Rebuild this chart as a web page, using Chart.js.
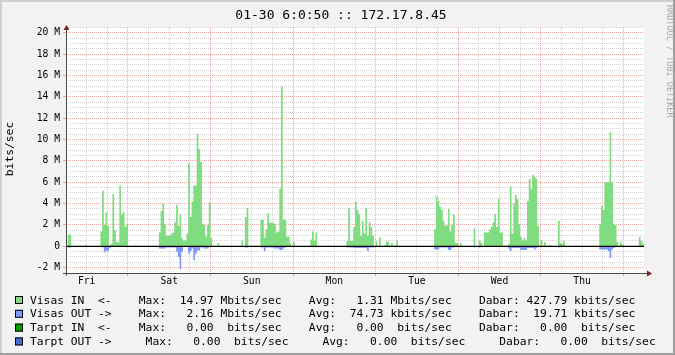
<!DOCTYPE html>
<html>
<head>
<meta charset="utf-8">
<title>Visas 172.17.8.45</title>
<script src="https://cdn.jsdelivr.net/npm/chart.js@4/dist/chart.umd.min.js"></script>
<style>
  html, body { margin: 0; padding: 0; background: #f2f2f2; }
  canvas { display: block; }
</style>
</head>
<body>
<canvas id="traffic" width="675" height="355"></canvas>
<script>
// one week, half-hour samples starting Fri 01-23 06:00, values in Mbit/s
const titleText = '01-30 6:0:50 :: 172.17.8.45';
const yAxisTitle = 'bits/sec';
const watermark = 'RRDTOOL / TOBI OETIKER';
const dayNames = ['Fri', 'Sat', 'Sun', 'Mon', 'Tue', 'Wed', 'Thu'];
const yTickValues = [-2, 0, 2, 4, 6, 8, 10, 12, 14, 16, 18, 20];
const yTickLabels = ['-2 M', '0', '2 M', '4 M', '6 M', '8 M', '10 M', '12 M', '14 M', '16 M', '18 M', '20 M'];

const visasIn = [
  // Fri
  0, 1.1, 1.1, 0, 0, 0, 0, 0, 0, 0, 0, 0.15,
  0, 0, 0, 0, 0, 0, 0, 0, 1.4, 5.2, 2.0, 3.2,
  1.9, 0.1, 0.25, 4.9, 1.5, 0.4, 0.35, 5.7, 3.0, 3.2, 1.8, 2.1,
  // Sat
  0, 0, 0, 0, 0.1, 0, 0, 0, 0, 0, 0, 0,
  0, 0, 0, 0, 0, 0, 1.3, 3.3, 4.0, 2.1, 1.0, 1.0,
  1.0, 1.2, 1.3, 2.25, 3.9, 1.9, 3.0, 0.75, 0.55, 0.55, 1.2, 7.8,
  2.75, 4.2, 5.7, 5.7, 10.5, 9.1, 7.9, 2.1, 2.0, 0.9, 2.0, 4.1,
  // Sun
  0.8, 0, 0, 0, 0.3, 0, 0, 0, 0, 0, 0, 0,
  0, 0, 0, 0, 0, 0, 0.55, 0, 2.75, 3.6, 0, 0,
  0, 0, 0, 0, 0, 2.5, 2.5, 0.8, 1.6, 3.1, 2.2, 2.2,
  2.2, 2.1, 1.3, 1.4, 5.4, 14.97, 2.5, 2.5, 0.9, 0.9, 0.25, 0,
  // Mon
  0.4, 0, 0, 0, 0, 0, 0, 0, 0, 0, 0.65, 1.4,
  0.55, 1.3, 0, 0, 0, 0, 0, 0, 0, 0, 0, 0,
  0, 0, 0, 0, 0, 0, 0, 0.5, 3.6, 0.5, 0.5, 1.8,
  4.2, 3.4, 3.0, 1.0, 2.4, 1.2, 3.6, 1.0, 2.25, 1.8, 1.0, 0,
  // Tue
  0.45, 0.05, 0.85, 0, 0, 0.1, 0.45, 0.45, 0, 0.3, 0, 0.1,
  0.55, 0, 0, 0, 0, 0, 0, 0, 0, 0, 0, 0,
  0, 0, 0, 0, 0, 0, 0, 0, 0, 0, 1.6, 4.7,
  4.25, 3.7, 3.4, 2.4, 1.9, 2.0, 3.5, 1.4, 2.0, 3.0, 0.3, 0.3,
  // Wed
  0, 0.3, 0, 0, 0, 0, 0, 0, 0, 1.7, 0, 0,
  0.55, 0.3, 0, 1.3, 1.3, 1.3, 1.6, 1.8, 2.25, 3.0, 1.8, 4.5,
  1.3, 1.3, 0, 0, 0, 0.25, 5.6, 1.2, 4.0, 4.8, 4.4, 2.1,
  0.9, 0.55, 0.8, 0.55, 4.25, 6.3, 5.4, 6.7, 6.5, 6.3, 1.9, 0.1,
  // Thu
  0.6, 0, 0.4, 0, 0, 0.1, 0, 0, 0, 0, 2.4, 0.3,
  0.25, 0.55, 0, 0, 0, 0, 0, 0, 0, 0, 0, 0,
  0, 0, 0, 0, 0, 0, 0, 0, 0, 0, 2.1, 3.8,
  3.4, 6.0, 6.0, 6.0, 10.7, 6.0, 2.1, 2.0, 0.4, 0, 0.45, 0.2,
  // Fri
  0, 0, 0, 0, 0, 0, 0, 0, 0, 0.9, 0.5, 0.25
];

const visasOut = [
  // Fri
  0, 0.1, 0.1, 0, 0, 0, 0, 0, 0, 0, 0, 0,
  0, 0, 0, 0, 0, 0, 0, 0, 0, 0.1, 0.55, 0.4,
  0.45, 0.15, 0.05, 0.05, 0.05, 0.05, 0.05, 0.05, 0.05, 0.05, 0.05, 0.05,
  // Sat
  0, 0, 0, 0, 0, 0, 0, 0, 0, 0, 0, 0,
  0, 0, 0, 0, 0, 0, 0.2, 0.2, 0.2, 0.2, 0.1, 0.1,
  0.1, 0.1, 0.1, 0.1, 0.5, 1.0, 2.16, 0.5, 0.05, 0.05, 0.05, 0.7,
  0.45, 0.2, 1.3, 0.7, 0.4, 0.4, 0.1, 0.1, 0.2, 0.2, 0.2, 0.05,
  // Sun
  0.05, 0, 0, 0, 0, 0, 0, 0, 0, 0, 0, 0,
  0, 0, 0, 0, 0, 0, 0, 0, 0.1, 0.1, 0, 0,
  0, 0, 0, 0, 0, 0.1, 0.1, 0.45, 0.1, 0.1, 0.1, 0.1,
  0.1, 0.2, 0.2, 0.2, 0.35, 0.35, 0.2, 0.1, 0, 0, 0, 0,
  // Mon
  0, 0, 0, 0, 0, 0, 0, 0, 0, 0, 0, 0,
  0, 0.1, 0, 0, 0, 0, 0, 0, 0, 0, 0, 0,
  0, 0, 0, 0, 0, 0, 0, 0.1, 0.1, 0.1, 0.1, 0.15,
  0.15, 0.15, 0.15, 0.15, 0.15, 0.15, 0.15, 0.45, 0.1, 0.1, 0.1, 0,
  // Tue
  0, 0, 0, 0, 0, 0, 0, 0, 0, 0, 0, 0,
  0, 0, 0, 0, 0, 0, 0, 0, 0, 0, 0, 0,
  0, 0, 0, 0, 0, 0, 0, 0, 0, 0, 0.3, 0.3,
  0.3, 0.1, 0.1, 0.1, 0.1, 0.1, 0.35, 0.35, 0.1, 0.1, 0, 0,
  // Wed
  0, 0, 0, 0, 0, 0, 0, 0, 0, 0.1, 0, 0,
  0.1, 0, 0, 0, 0, 0, 0, 0, 0, 0, 0, 0,
  0, 0, 0, 0, 0, 0.2, 0.45, 0.15, 0.15, 0.15, 0.15, 0.15,
  0.35, 0.35, 0.35, 0.35, 0.15, 0.15, 0.15, 0.15, 0.3, 0.15, 0, 0,
  // Thu
  0, 0, 0, 0, 0, 0, 0, 0, 0, 0, 0.1, 0,
  0, 0, 0, 0, 0, 0, 0, 0, 0, 0, 0, 0,
  0, 0, 0, 0, 0, 0, 0, 0, 0, 0, 0.3, 0.3,
  0.3, 0.3, 0.3, 0.45, 1.1, 0.3, 0.15, 0, 0, 0, 0, 0,
  // Fri
  0, 0, 0, 0, 0, 0, 0, 0, 0, 0.05, 0, 0
];

const legendColors = ['#80dc80', '#8098fa', '#00a000', '#4a6cc8'];
const legendLines = [
  'Visas IN  <-    Max:  14.97 Mbits/sec    Avg:   1.31 Mbits/sec    Dabar: 427.79 kbits/sec',
  'Visas OUT ->    Max:   2.16 Mbits/sec    Avg:  74.73 kbits/sec    Dabar:  19.71 kbits/sec',
  'Tarpt IN  <-    Max:   0.00  bits/sec    Avg:   0.00  bits/sec    Dabar:   0.00  bits/sec',
  'Tarpt OUT ->     Max:   0.00  bits/sec     Avg:   0.00  bits/sec     Dabar:   0.00  bits/sec'
];

const MONO = '"DejaVu Sans Mono", "Liberation Mono", monospace';
const GRID = 'rgba(143,143,143,0.38)';
const MGRID = 'rgba(222,79,79,0.5)';
const HOURS = dayNames.length * 24;

// each half-hour value becomes a step; one extra point closes the last step
function steps(values, sign) {
  const pts = values.map((v, i) => ({ x: i / 2, y: sign * v }));
  pts.push({ x: values.length / 2, y: sign * values[values.length - 1] });
  return pts;
}

function isMidnight(h) { return (h - 18) % 24 === 0; }
function isNoon(h) { return (h - 6) % 24 === 0; }
function isMajorY(v) { return yTickValues.includes(v); }

const rrdLook = {
  id: 'rrdLook',
  beforeDraw(chart) {
    const { ctx, chartArea: a, width, height } = chart;
    ctx.save();
    ctx.fillStyle = '#f2f2f2';
    ctx.fillRect(0, 0, width, height);
    ctx.fillStyle = '#cfcfcf';
    ctx.fillRect(0, 0, width, 2);
    ctx.fillRect(0, 0, 2, height);
    ctx.fillStyle = '#9e9e9e';
    ctx.fillRect(0, height - 2, width, 2);
    ctx.fillRect(width - 2, 0, 2, height);
    ctx.fillStyle = '#ffffff';
    ctx.fillRect(a.left, a.top, a.right - a.left, a.bottom - a.top);
    ctx.restore();
  },
  afterDatasetsDraw(chart) {
    const { ctx, chartArea: a } = chart;
    const y0 = chart.scales.y.getPixelForValue(0);
    ctx.save();
    // zero line
    ctx.strokeStyle = '#000';
    ctx.lineWidth = 1.2;
    ctx.beginPath();
    ctx.moveTo(a.left, y0);
    ctx.lineTo(a.right, y0);
    ctx.stroke();
    // axes
    ctx.strokeStyle = '#4a4a4a';
    ctx.lineWidth = 1;
    ctx.beginPath();
    ctx.moveTo(a.left - 3, a.bottom + 0.5);
    ctx.lineTo(a.right + 3, a.bottom + 0.5);
    ctx.moveTo(a.left + 0.5, a.bottom + 3);
    ctx.lineTo(a.left + 0.5, a.top - 1);
    ctx.stroke();
    // arrows
    ctx.fillStyle = '#7f1f1f';
    ctx.beginPath();
    ctx.moveTo(a.right + 3, a.bottom - 2.5);
    ctx.lineTo(a.right + 8, a.bottom + 0.5);
    ctx.lineTo(a.right + 3, a.bottom + 3.5);
    ctx.closePath();
    ctx.fill();
    ctx.beginPath();
    ctx.moveTo(a.left - 2.5, a.top + 3);
    ctx.lineTo(a.left + 0.5, a.top - 2);
    ctx.lineTo(a.left + 3.5, a.top + 3);
    ctx.closePath();
    ctx.fill();
    ctx.restore();
  },
  afterDraw(chart) {
    const { ctx, chartArea: a } = chart;
    ctx.save();
    ctx.fillStyle = '#000';
    ctx.textBaseline = 'alphabetic';
    ctx.textAlign = 'center';
    ctx.font = '13px ' + MONO;
    ctx.fillText(titleText, 341, 18.5);

    // vertical axis title
    ctx.save();
    ctx.translate(10.5, (a.top + a.bottom) / 2 - 1);
    ctx.rotate(-Math.PI / 2);
    ctx.textBaseline = 'middle';
    ctx.font = '11.3px ' + MONO;
    ctx.fillText(yAxisTitle, 0, 0);
    ctx.restore();

    // watermark on the right edge
    ctx.save();
    ctx.translate(669, 5);
    ctx.rotate(Math.PI / 2);
    ctx.textAlign = 'left';
    ctx.textBaseline = 'middle';
    ctx.fillStyle = '#a8a8a8';
    ctx.font = '8.5px ' + MONO;
    ctx.fillText(watermark, 0, 0);
    ctx.restore();

    // legend rows
    ctx.textAlign = 'left';
    ctx.font = '11.3px ' + MONO;
    legendLines.forEach((line, i) => {
      const base = 303.5 + i * 13.8;
      ctx.fillStyle = legendColors[i];
      ctx.fillRect(15, base - 7.5, 8, 8);
      ctx.strokeStyle = '#000';
      ctx.lineWidth = 1;
      ctx.strokeRect(15.5, base - 7, 7, 7);
      ctx.fillStyle = '#000';
      ctx.fillText(line, 30, base);
    });
    ctx.restore();
  }
};

const ctx = document.getElementById('traffic').getContext('2d');
new Chart(ctx, {
  type: 'line',
  data: {
    datasets: [{
      label: 'Visas IN',
      data: steps(visasIn, 1),
      backgroundColor: legendColors[0],
      fill: 'origin',
      stepped: true,
      borderWidth: 0,
      pointRadius: 0
    }, {
      label: 'Visas OUT',
      data: steps(visasOut, -1),
      backgroundColor: legendColors[1],
      fill: 'origin',
      stepped: true,
      borderWidth: 0,
      pointRadius: 0
    }]
  },
  options: {
    responsive: false,
    animation: false,
    events: [],
    layout: { padding: { left: 0, top: 27, right: 31, bottom: 0 } },
    plugins: {
      legend: { display: false },
      tooltip: { enabled: false }
    },
    scales: {
      x: {
        type: 'linear',
        min: 0,
        max: HOURS,
        afterFit: s => { s.height = 82; },
        afterBuildTicks: s => {
          const t = [];
          for (let h = 6; h < HOURS; h += 6) t.push({ value: h });
          s.ticks = t;
        },
        ticks: {
          autoSkip: false,
          maxRotation: 0,
          padding: 0,
          color: '#000',
          font: { family: MONO, size: 9.7 },
          callback: v => isNoon(v) ? dayNames[(v - 6) / 24] : ''
        },
        grid: {
          color: c => isMidnight(c.tick.value) ? MGRID : GRID,
          tickLength: 3,
          tickColor: c => isMidnight(c.tick.value) ? MGRID : 'rgba(0,0,0,0)'
        },
        border: { display: false, dash: [1, 1] }
      },
      y: {
        min: -2.5,
        max: 20.55,
        afterFit: s => { s.width = 66; },
        afterBuildTicks: s => {
          const t = [];
          yTickValues.forEach(m => {
            t.push({ value: m });
            for (let d = 0.5; d < 2; d += 0.5) t.push({ value: m + d });
          });
          s.ticks = t.filter(k => k.value <= 20.5);
        },
        ticks: {
          autoSkip: false,
          padding: 3,
          color: '#000',
          font: { family: MONO, size: 9.7 },
          callback: v => isMajorY(v) ? yTickLabels[yTickValues.indexOf(v)] : ''
        },
        grid: {
          color: c => isMajorY(c.tick.value) ? MGRID : GRID,
          tickLength: 3,
          tickColor: c => isMajorY(c.tick.value) ? MGRID : 'rgba(0,0,0,0)'
        },
        border: { display: false, dash: [1, 1] }
      }
    }
  },
  plugins: [rrdLook]
});
</script>
</body>
</html>
